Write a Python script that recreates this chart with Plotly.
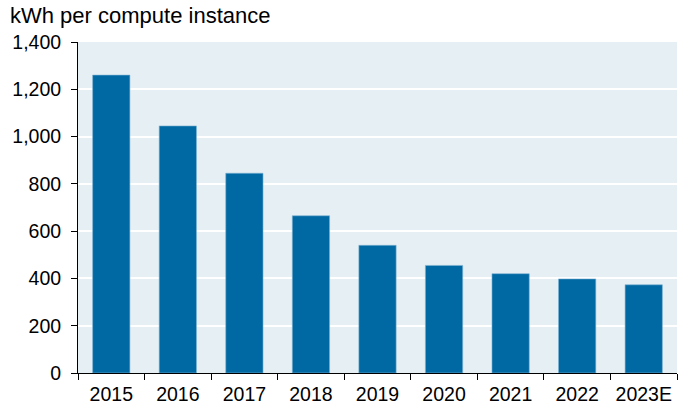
import plotly.graph_objects as go

years = ["2015", "2016", "2017", "2018", "2019", "2020", "2021", "2022", "2023E"]
kwh = [1260, 1045, 845, 665, 540, 455, 420, 398, 373]
y_ticks = [0, 200, 400, 600, 800, 1000, 1200, 1400]
y_title = "kWh per compute instance"

fig = go.Figure(go.Bar(
    x=years, y=kwh,
    marker=dict(color="#0068A3", line=dict(color="#7FB3D3", width=0.6)),
))

fig.update_layout(
    width=684, height=406,
    margin=dict(l=78, r=7, t=42, b=33, autoexpand=False),
    paper_bgcolor="white",
    plot_bgcolor="#E6EFF3",
    bargap=0.44,
    showlegend=False,
    font=dict(family="Liberation Sans, Arial", size=19.5, color="black"),
    annotations=[dict(
        text=y_title, xref="paper", yref="paper", x=-0.117, y=1.0,
        xanchor="left", yanchor="bottom", yshift=12, showarrow=False,
        font=dict(size=22, color="black"),
    )],
)
fig.update_xaxes(
    showline=True, linecolor="black", linewidth=1,
    ticks="outside", ticklen=6, tickcolor="black", tickson="boundaries",
    showgrid=False, tickfont=dict(size=19.5), automargin=False,
    ticklabelstandoff=4,
)
fig.update_yaxes(
    range=[0, 1400], tickvals=y_ticks, tickformat=",",
    showline=True, linecolor="black", linewidth=1,
    ticks="outside", ticklen=6, tickcolor="black",
    gridcolor="white", gridwidth=1.5, zeroline=False,
    tickfont=dict(size=19.5), automargin=False, ticklabelstandoff=6,
)

fig.write_html(
    "out.html",
    config={"displayModeBar": False},
    post_script="document.body.style.margin='0';document.body.style.overflow='hidden';",
)
